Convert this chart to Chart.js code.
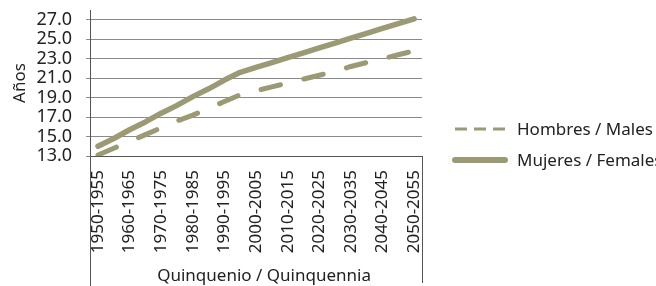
<!DOCTYPE html>
<html>
<head>
<meta charset="utf-8">
<script src="https://cdn.jsdelivr.net/npm/chart.js@4.4.0/dist/chart.umd.min.js"></script>
<style>
    html, body { margin: 0; padding: 0; background: #fff; }
    #wrap { width: 656px; height: 286px; position: relative; }
    #legend { position: absolute; left: 452px; top: 113px; font-family: 'Noto Sans', 'DejaVu Sans', sans-serif;
              font-size: 17px; color: #222; white-space: nowrap; }
    .item { display: flex; align-items: center; height: 31px; }
    .item svg { margin-right: 9px; }
</style>
</head>
<body>
<div id="wrap"><canvas id="myChart"></canvas><div id="legend"></div></div>
<script>
// Five-year periods (only every second one gets a label on the axis)
const quinquennia = [
    '1950-1955', '1955-1960', '1960-1965', '1965-1970', '1970-1975', '1975-1980',
    '1980-1985', '1985-1990', '1990-1995', '1995-2000', '2000-2005', '2005-2010',
    '2010-2015', '2015-2020', '2020-2025', '2025-2030', '2030-2035', '2035-2040',
    '2040-2045', '2045-2050', '2050-2055'
];

// Values (years)
const males = [13.1, 13.8, 14.5, 15.2, 15.9, 16.6, 17.2, 17.9, 18.6, 19.3, 19.7,
               20.1, 20.5, 20.9, 21.3, 21.7, 22.2, 22.6, 23.0, 23.4, 23.8];
const females = [14.0, 14.8, 15.7, 16.5, 17.4, 18.2, 19.1, 19.9, 20.8, 21.6, 22.1,
                 22.6, 23.1, 23.6, 24.1, 24.6, 25.1, 25.6, 26.1, 26.6, 27.1];

const yTicks = [13, 15, 17, 19, 21, 23, 25, 27];

const olive = '#9c9a74';
const textColor = '#222';
const fontFamily = "'Noto Sans', 'DejaVu Sans', sans-serif";

// Excel-style separators running down past the category axis,
// plus a nudge for the rotated category labels and the axis title
const axisFrame = {
    id: 'axisFrame',
    afterLayout(chart) {
        const s = chart.scales.x;
        if (s._nudged) return;
        const drawLabels = s.drawLabels.bind(s);
        const drawTitle = s.drawTitle.bind(s);
        s.drawLabels = area => { s.ctx.save(); s.ctx.translate(0, 14); drawLabels(area); s.ctx.restore(); };
        s.drawTitle = area => { s.ctx.save(); s.ctx.translate(8, 0); drawTitle(area); s.ctx.restore(); };
        s._nudged = true;
    },
    afterDraw(chart) {
        const { ctx, chartArea } = chart;
        ctx.save();
        ctx.strokeStyle = '#555';
        ctx.lineWidth = 1;
        ctx.beginPath();
        ctx.moveTo(Math.round(chartArea.left) + 0.5, chartArea.bottom);
        ctx.lineTo(Math.round(chartArea.left) + 0.5, chart.height);
        ctx.moveTo(Math.round(chartArea.right) + 0.5, chartArea.bottom);
        ctx.lineTo(Math.round(chartArea.right) + 0.5, chart.height - 3);
        ctx.stroke();
        ctx.restore();
    }
};

// Legend in HTML, built from the datasets
function buildLegend(chart) {
    const box = document.getElementById('legend');
    box.innerHTML = '';
    chart.data.datasets.forEach(ds => {
        const dashed = !!ds.borderDash;
        const item = document.createElement('div');
        item.className = 'item';
        item.innerHTML =
            '<svg width="56" height="10"><line x1="3" y1="5" x2="53" y2="5" stroke="' + ds.borderColor +
            '" stroke-width="' + (dashed ? 3 : 6) + '" stroke-linecap="' + (dashed ? 'butt' : 'round') + '"' +
            (dashed ? ' stroke-dasharray="12 7"' : '') + '/></svg><span>' + ds.label + '</span>';
        box.appendChild(item);
    });
}

const ctx = document.getElementById('myChart').getContext('2d');

const chart = new Chart(ctx, {
    type: 'line',
    data: {
        labels: quinquennia,
        datasets: [
            {
                label: 'Hombres / Males',
                data: males,
                borderColor: olive,
                backgroundColor: olive,
                borderWidth: 5,
                borderDash: [20, 24],
                borderCapStyle: 'round',
                borderJoinStyle: 'round',
                pointRadius: 0,
                fill: false,
                tension: 0
            },
            {
                label: 'Mujeres / Females',
                data: females,
                borderColor: olive,
                backgroundColor: olive,
                borderWidth: 5.5,
                borderCapStyle: 'round',
                borderJoinStyle: 'round',
                pointRadius: 0,
                fill: false,
                tension: 0
            }
        ]
    },
    options: {
        responsive: true,
        maintainAspectRatio: false,
        animation: false,
        layout: { padding: { top: 10, left: 10, right: 234, bottom: 0 } },
        plugins: {
            legend: { display: false },
            tooltip: { enabled: false }
        },
        scales: {
            x: {
                offset: true,
                afterFit: scale => { scale.height = 130; },
                grid: { display: false, drawTicks: false },
                border: { display: true, color: '#555' },
                ticks: {
                    autoSkip: false,
                    maxRotation: 90,
                    minRotation: 90,
                    padding: 0,
                    color: textColor,
                    font: { size: 17, family: fontFamily },
                    // only every second period is labelled
                    callback: function (value, index) {
                        return index % 2 === 0 ? this.getLabelForValue(value) : null;
                    }
                },
                title: {
                    display: true,
                    text: 'Quinquenio / Quinquennia',
                    color: textColor,
                    font: { size: 17, family: fontFamily },
                    padding: { top: 0, bottom: 0 }
                }
            },
            y: {
                min: 13,
                max: 28,
                afterBuildTicks: scale => {
                    scale.ticks = yTicks.map(v => ({ value: v }));
                },
                afterFit: scale => {
                    scale.paddingTop = 0;
                    scale.width -= 10;
                },
                grid: { color: '#8a8a8a', lineWidth: 1, tickLength: 4 },
                border: { display: true, color: '#555' },
                ticks: {
                    autoSkip: false,
                    padding: 14,
                    color: textColor,
                    font: { size: 18, family: fontFamily },
                    callback: value => value.toFixed(1)
                },
                title: {
                    display: true,
                    text: 'Años',
                    color: textColor,
                    font: { size: 17, family: fontFamily },
                    padding: { top: 0, bottom: 2 }
                }
            }
        }
    },
    plugins: [axisFrame]
});

buildLegend(chart);
</script>
</body>
</html>
